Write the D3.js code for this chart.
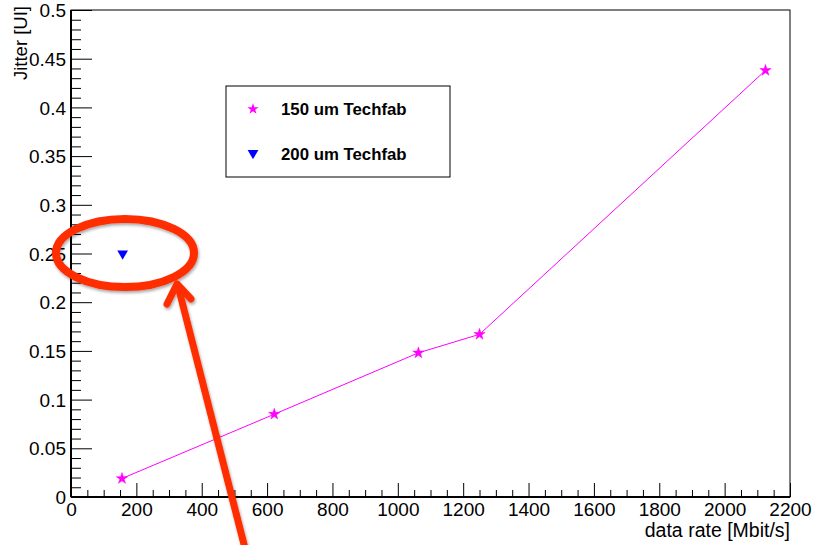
<!DOCTYPE html>
<html><head><meta charset="utf-8">
<script src="https://cdn.jsdelivr.net/npm/d3@7"></script>
<style>body{margin:0;background:#fff}svg{display:block;font-family:"Liberation Sans",Arial,Helvetica,sans-serif}</style>
</head><body><svg id="c" width="814" height="545"></svg>
<script>
// ---- data ----
const rate150 = [156, 622, 1063, 1250, 2125];
const jitter150 = [0.019, 0.085, 0.148, 0.167, 0.438];
const rate200 = [158];
const jitter200 = [0.25];
const seriesNames = ["150 um Techfab", "200 um Techfab"];
const xTicks = [0, 200, 400, 600, 800, 1000, 1200, 1400, 1600, 1800, 2000, 2200];
const xTickLabels = ["0", "200", "400", "600", "800", "1000", "1200", "1400", "1600", "1800", "2000", "2200"];
const yTicks = [0, 0.05, 0.1, 0.15, 0.2, 0.25, 0.3, 0.35, 0.4, 0.45, 0.5];
const yTickLabels = ["0", "0.05", "0.1", "0.15", "0.2", "0.25", "0.3", "0.35", "0.4", "0.45", "0.5"];
const xTitle = "data rate [Mbit/s]";
const yTitle = "Jitter [UI]";

// ---- drawing ----
const svg = d3.select("#c");
const L = 71, R = 790, T = 10, B = 497;
const x = d3.scaleLinear().domain([0, 2200]).range([L, R]);
const y = d3.scaleLinear().domain([0, 0.5]).range([B, T]);

const defs = svg.append("defs");
const f = defs.append("filter").attr("id", "sh").attr("x", "-20%").attr("y", "-20%").attr("width", "140%").attr("height", "140%");
f.append("feDropShadow").attr("dx", 1).attr("dy", 2).attr("stdDeviation", 1.5).attr("flood-color", "#000").attr("flood-opacity", 0.35);

// minor ticks
const xMinor = d3.range(0, 2201, 50).filter(v => v % 200 !== 0);
const yMinor = d3.range(0, 51, 1).map(v => v / 100).filter(v => Math.round(v * 100) % 5 !== 0);

const gxMinor = svg.append("g").attr("transform", `translate(0,${B})`)
  .call(d3.axisBottom(x).tickValues(xMinor).tickSize(-7).tickFormat(""));
const gyMinor = svg.append("g").attr("transform", `translate(${L},0)`)
  .call(d3.axisLeft(y).tickValues(yMinor).tickSize(-10).tickFormat(""));

const gx = svg.append("g").attr("transform", `translate(0,${B})`)
  .call(d3.axisBottom(x).tickValues(xTicks).tickSize(-14).tickPadding(6)
    .tickFormat((d, i) => xTickLabels[i]));
const gy = svg.append("g").attr("transform", `translate(${L},0)`)
  .call(d3.axisLeft(y).tickValues(yTicks).tickSize(-21).tickPadding(5)
    .tickFormat((d, i) => yTickLabels[i]));

[gx, gy, gxMinor, gyMinor].forEach(g => {
  g.select(".domain").remove();
  g.selectAll(".tick line").attr("stroke", "#000").attr("stroke-width", 1);
  g.selectAll("text").attr("font-size", 19).attr("fill", "#000")
    .attr("font-family", '"Liberation Sans",Arial,sans-serif');
});
gy.selectAll("text").attr("dy", "0.35em");

// frame
svg.append("rect").attr("x", L).attr("y", T).attr("width", R - L).attr("height", B - T)
  .attr("fill", "none").attr("stroke", "#000").attr("stroke-width", 1);
svg.append("line").attr("x1", L).attr("x2", R).attr("y1", B).attr("y2", B)
  .attr("stroke", "#000").attr("stroke-width", 2);
svg.append("line").attr("x1", L).attr("x2", L).attr("y1", T).attr("y2", B)
  .attr("stroke", "#000").attr("stroke-width", 2);

// titles
svg.append("text").attr("x", R).attr("y", 537).attr("text-anchor", "end")
  .attr("font-size", 19.5).text(xTitle);
svg.append("text").attr("transform", "translate(27,6) rotate(-90)").attr("text-anchor", "end")
  .attr("font-size", 18.5).text(yTitle);

// series 150
const d150 = rate150.map((r, i) => [r, jitter150[i]]);
svg.append("path").datum(d150)
  .attr("d", d3.line().x(d => x(d[0])).y(d => y(d[1])))
  .attr("fill", "none").attr("stroke", "#ff00ff").attr("stroke-width", 1);
const star = d3.symbol(d3.symbolStar).size(40);
svg.selectAll(".s150").data(d150).enter().append("path")
  .attr("transform", d => `translate(${x(d[0])},${y(d[1])})`)
  .attr("d", star).attr("fill", "#ff00ff").attr("stroke", "#ff00ff").attr("stroke-width", 0.5);

// series 200
const d200 = rate200.map((r, i) => [r, jitter200[i]]);
const tri = d3.symbol(d3.symbolTriangle).size(50);
svg.selectAll(".s200").data(d200).enter().append("path")
  .attr("transform", d => `translate(${x(d[0])},${y(d[1])}) rotate(180)`)
  .attr("d", tri).attr("fill", "#0000ff");

// legend
const lg = svg.append("g");
lg.append("rect").attr("x", 226).attr("y", 86).attr("width", 224).attr("height", 91)
  .attr("fill", "#fff").attr("stroke", "#000").attr("stroke-width", 1);
lg.append("path").attr("transform", "translate(253,109)").attr("d", star).attr("fill", "#ff00ff");
lg.append("path").attr("transform", "translate(253,153) rotate(180)").attr("d", tri).attr("fill", "#0000ff");
lg.append("text").attr("x", 281).attr("y", 115).attr("font-size", 16.8).attr("font-weight", "bold").text(seriesNames[0]);
lg.append("text").attr("x", 281).attr("y", 160).attr("font-size", 16.8).attr("font-weight", "bold").text(seriesNames[1]);

// annotation
const red = "#ff2d00";
const ann = svg.append("g").attr("filter", "url(#sh)");
ann.append("ellipse").attr("cx", 125).attr("cy", 253).attr("rx", 69).attr("ry", 34)
  .attr("fill", "none").attr("stroke", red).attr("stroke-width", 8);
ann.append("line").attr("x1", 248).attr("y1", 560).attr("x2", 178).attr("y2", 286)
  .attr("stroke", red).attr("stroke-width", 7);
ann.append("path").attr("d", "M167,304 L177,284 L191,299")
  .attr("fill", "none").attr("stroke", red).attr("stroke-width", 7)
  .attr("stroke-linecap", "round").attr("stroke-linejoin", "round");
</script></body></html>
